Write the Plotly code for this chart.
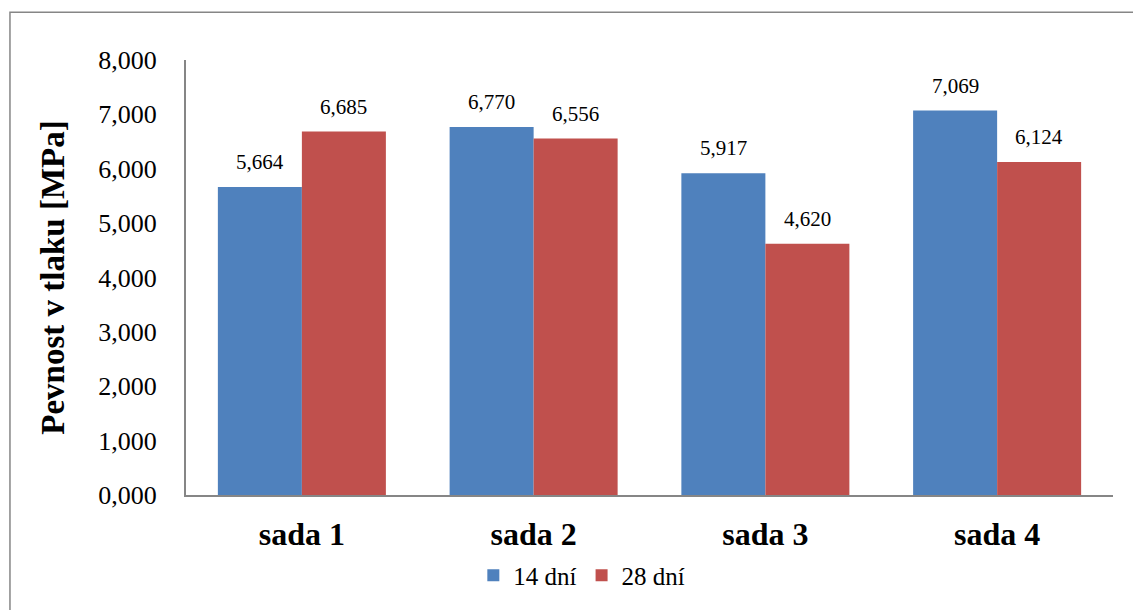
import plotly.graph_objects as go

categories = ["sada 1", "sada 2", "sada 3", "sada 4"]
series_names = ["14 dní", "28 dní"]
values_14 = [5.664, 6.770, 5.917, 7.069]
values_28 = [6.685, 6.556, 4.620, 6.124]
colors = ["#4F81BD", "#C0504D"]
y_title = "Pevnost v tlaku [MPa]"

FONT = "Liberation Serif"

def fmt(v):
    return f"{v:.3f}".replace(".", ",")

fig = go.Figure()
for name, vals, col in zip(series_names, [values_14, values_28], colors):
    fig.add_trace(go.Bar(
        x=categories, y=vals, name=name,
        marker=dict(color=col, line=dict(width=0)),
        hoverinfo="x+y",
    ))

# data labels as annotations (offset to each bar of the group)
for i, vals in enumerate([values_14, values_28]):
    shift = -42 if i == 0 else 42
    for c, v in zip(categories, vals):
        fig.add_annotation(
            x=c, y=v, text=fmt(v), showarrow=False,
            xshift=shift, yshift=25,
            font=dict(family=FONT, size=21, color="#000000"),
        )

fig.update_layout(
    width=1133, height=610,
    margin=dict(l=186, r=20, t=60, b=113),
    paper_bgcolor="white", plot_bgcolor="white",
    barmode="group", bargap=0.275, bargroupgap=0,
    separators=",.",
    font=dict(family=FONT, color="#000000"),
    showlegend=True,
    legend=dict(
        orientation="h", x=0.427, xanchor="center", y=-0.185, yanchor="middle",
        font=dict(family=FONT, size=25, color="#000000"),
        itemwidth=30, traceorder="normal",
    ),
    xaxis=dict(
        showline=True, linecolor="#868686", linewidth=2,
        ticks="", showgrid=False,
        tickfont=dict(family=FONT, size=32, color="#000000", weight="bold"),
        ticklabelstandoff=10,
    ),
    yaxis=dict(
        range=[0, 8], dtick=1, tickformat=".3f",
        showline=True, linecolor="#868686", linewidth=2,
        showgrid=False, zeroline=False, ticks="",
        tickfont=dict(family=FONT, size=26, color="#000000"),
        ticklabelstandoff=22,
        title=dict(text=y_title, standoff=24,
                   font=dict(family=FONT, size=33, color="#000000", weight="bold")),
    ),
    shapes=[dict(
        type="rect", xref="paper", yref="paper",
        x0=-0.1899, x1=1.2, y0=-0.6, y1=1.1098,
        line=dict(color="#868686", width=1.5), fillcolor="rgba(0,0,0,0)",
        layer="below",
    )],
)

fig.write_html("out.html")
